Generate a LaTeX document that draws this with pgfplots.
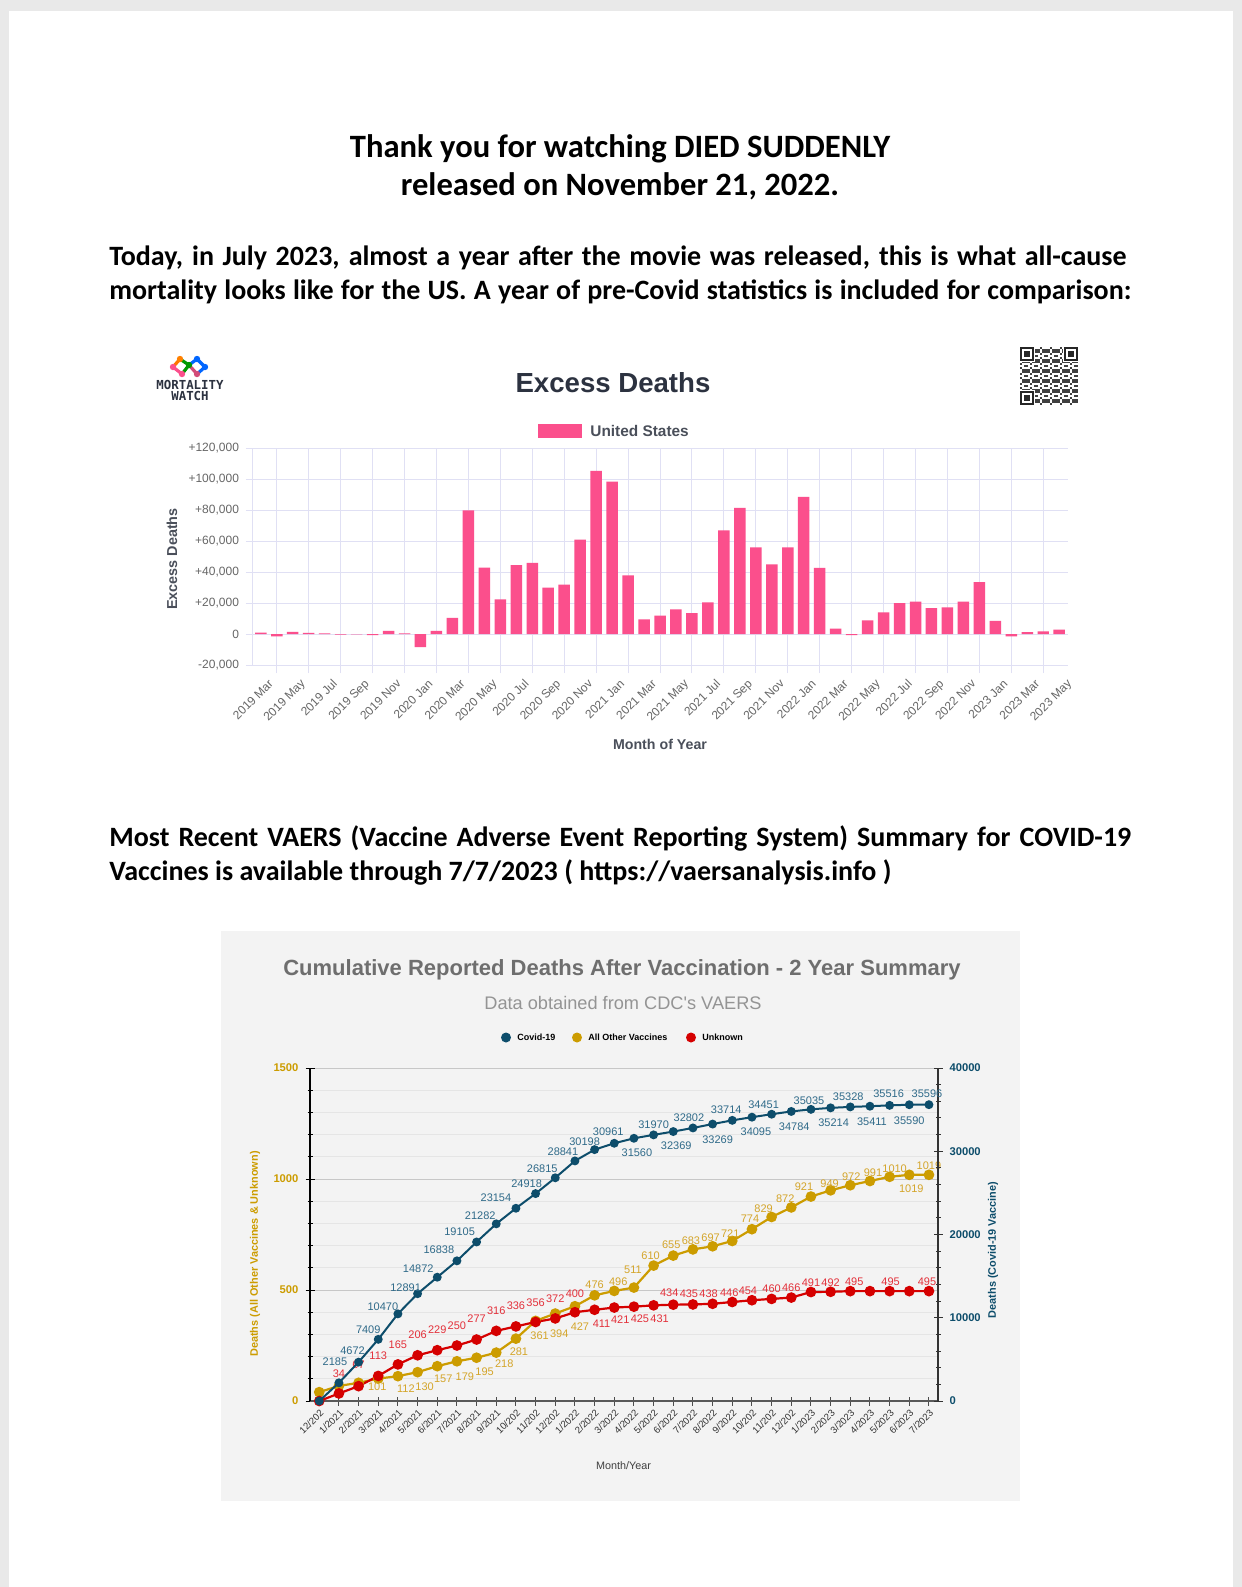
\documentclass[border=0pt]{standalone}
\usepackage{fontspec}
\usepackage{pgfplots}
\usepackage{pgfplotstable}
\pgfplotsset{compat=1.18}
\setmainfont{Carlito}
\newfontfamily\arial{Liberation Sans}
\newfontfamily\monof{DejaVu Sans Mono}
\newcommand\fs[1]{\fontsize{#1}{#1}\selectfont}

\definecolor{pagegray}{HTML}{E9E9E9}
\definecolor{barpink}{HTML}{FB4F8C}
\definecolor{gridlav}{HTML}{E0E0F4}
\definecolor{ticktxt}{HTML}{666666}
\definecolor{titlenavy}{HTML}{2C3240}
\definecolor{axlab}{HTML}{4A4F5A}
\definecolor{panelgray}{HTML}{F3F3F3}
\definecolor{covid}{HTML}{0D4D6B}
\definecolor{covidtxt}{HTML}{2F6A89}
\definecolor{othvac}{HTML}{CC9C00}
\definecolor{othtxt}{HTML}{D4A52A}
\definecolor{unk}{HTML}{D50000}
\definecolor{unktxt}{HTML}{E3303A}

\pgfplotstableread{
x y
0 1000
1 -1500
2 1500
3 800
4 400
5 -300
6 -200
7 -600
8 2000
9 400
10 -8500
11 2000
12 10500
13 80000
14 43000
15 22500
16 44500
17 46000
18 30000
19 32000
20 61000
21 105500
22 98500
23 38000
24 9500
25 12000
26 16000
27 13500
28 20500
29 67000
30 81500
31 56000
32 45000
33 56000
34 88700
35 42800
36 3500
37 -700
38 8800
39 14000
40 20000
41 21000
42 16800
43 17300
44 21000
45 33500
46 8500
47 -1500
48 1300
49 1700
50 2800
}\excess

\pgfplotstableread{
x y
0 0
1 2185
2 4672
3 7409
4 10470
5 12891
6 14872
7 16838
8 19105
9 21282
10 23154
11 24918
12 26815
13 28841
14 30198
15 30961
16 31560
17 31970
18 32369
19 32802
20 33269
21 33714
22 34095
23 34451
24 34784
25 35035
26 35214
27 35328
28 35411
29 35516
30 35590
31 35596
}\covid

% label tables: value, and offset (dx, dy, in pixels) of the label from its point
\pgfplotstableread{
x y dx dy lab
1 2185 -4 -21 2185
2 4672 -6 -11 4672
3 7409 -10 -10 7409
4 10470 -15 -7 10470
5 12891 -12 -6 12891
6 14872 -19 -8 14872
7 16838 -18 -11 16838
8 19105 -17 -10 19105
9 21282 -16 -8 21282
10 23154 -20 -11 23154
11 24918 -9 -10 24918
12 26815 -13 -9 26815
13 28841 -12 -9 28841
14 30198 -10 -8 30198
15 30961 -6 -12 30961
16 31560 3 14 31560
17 31970 0 -10 31970
18 32369 3 14 32369
19 32802 -4 -10 32802
20 33269 5 16 33269
21 33714 -6 -11 33714
22 34095 4 15 34095
23 34451 -8 -10 34451
24 34784 3 15 34784
25 35035 -2 -9 35035
26 35214 3 15 35214
27 35328 -2 -10 35328
28 35411 2 15 35411
29 35516 -1 -12 35516
30 35590 0 16 35590
31 35596 -2 -11 35596
}\covidlab

\pgfplotstableread{
x y
0 40
1 68
2 82
3 101
4 112
5 130
6 157
7 179
8 195
9 218
10 281
11 361
12 394
13 427
14 476
15 496
16 511
17 610
18 655
19 683
20 697
21 721
22 774
23 829
24 872
25 921
26 949
27 972
28 991
29 1010
30 1019
31 1019
}\other

\pgfplotstableread{
x y dx dy lab
3 101 -1 8 101
4 112 8 13 112
5 130 7 15 130
6 157 6 13 157
7 179 8 15 179
8 195 8 14 195
9 218 8 11 218
10 281 3 13 281
11 361 4 15 361
12 394 4 20 394
13 427 5 20 427
14 476 0 -11 476
15 496 4 -9 496
16 511 -1 -18 511
17 610 -3 -10 610
18 655 -2 -11 655
19 683 -2 -9 683
20 697 -2 -9 697
21 721 -2 -7 721
22 774 -2 -10 774
23 829 -8 -8 829
24 872 -6 -9 872
25 921 -7 -10 921
26 949 -1 -7 949
27 972 1 -9 972
28 991 3 -8 991
29 1010 5 -8 1010
30 1019 2 14 1019
31 1019 0 -9 1019
}\otherlab

\pgfplotstableread{
x y
0 0
1 34
2 67
3 113
4 165
5 206
6 229
7 250
8 277
9 316
10 336
11 356
12 372
13 400
14 411
15 421
16 425
17 431
18 434
19 435
20 438
21 446
22 454
23 460
24 466
25 491
26 492
27 495
28 495
29 495
30 495
31 495
}\unknown

\pgfplotstableread{
x y dx dy lab
1 34 0 -20 34
2 67 0 -21 67
3 113 0 -20 113
4 165 0 -20 165
5 206 0 -21 206
6 229 0 -20 229
7 250 0 -20 250
8 277 0 -21 277
9 316 0 -20 316
10 336 0 -21 336
11 356 0 -19 356
12 372 0 -20 372
13 400 0 -19 400
14 411 7 14 411
15 421 6 12 421
16 425 6 12 425
17 431 6 13 431
18 434 -4 -12 434
19 435 -4 -11 435
20 438 -4 -10 438
21 446 -3 -9 446
22 454 -4 -9 454
23 460 0 -10 460
24 466 0 -10 466
25 491 0 -9 491
26 492 0 -9 492
27 495 4 -9 495
29 495 1 -9 495
31 495 -2 -9 495
}\unknownlab

\pgfplotsset{
  lab/.style={only marks, mark=*, mark size=0pt, mark options={draw=none,fill=none},
    point meta=explicit symbolic, nodes near coords, nodes near coords align=center,
    every node near coord/.append style={anchor=center, inner sep=0pt,
      font=\arial\fs{5.5}, text=#1}},
}

\begin{document}
\begin{tikzpicture}
\path[use as bounding box] (0,0) rectangle (621pt,-793.5pt);
\fill[pagegray] (0,0) rectangle (621pt,-793.5pt);
\begin{scope}[x=0.5pt,y=-0.5pt]
\fill[white] (9,11) rectangle (1233,1587);
\fill[panelgray] (221,931) rectangle (1020,1501);
% page text
\node[anchor=base, font=\bfseries\fs{16.3}, inner sep=0pt] at (620,157) {Thank you for watching DIED SUDDENLY};
\node[anchor=base, font=\bfseries\fs{16.3}, inner sep=0pt] at (620,195) {released on November 21, 2022.};
\node[anchor=base west, font=\bfseries\fs{14}, inner sep=0pt] at (109,265) {\makebox[508.5pt][s]{Today, in July 2023, almost a year after the movie was released, this is what all-cause}};
\node[anchor=base west, font=\bfseries\fs{14}, inner sep=0pt] at (109,299.5) {\makebox[511pt][s]{mortality looks like for the US. A year of pre-Covid statistics is included for comparison:}};
\node[anchor=base west, font=\bfseries\fs{14}, inner sep=0pt] at (109,846) {\makebox[511pt][s]{Most Recent VAERS (Vaccine Adverse Event Reporting System) Summary for COVID-19}};
\node[anchor=base west, font=\bfseries\fs{14}, inner sep=0pt] at (109,880.5) {Vaccines is available through 7/7/2023 ( https://vaersanalysis.info )};
% logo
\draw[line width=1.6pt, draw=barpink] (173,367) -- (182,374);
\draw[line width=1.6pt, draw=orange!90!red] (173,367) -- (180,359);
\draw[line width=1.6pt, draw=green!60!black] (180,359) -- (189,365) -- (182,374);
\draw[line width=1.6pt, draw=blue!60!cyan] (189,365) -- (197,359) -- (205,367) -- (197,374);
\draw[line width=1.6pt, draw=purple!70] (197,374) -- (189,365);
\foreach \px/\py/\c in {173/367/barpink,180/359/orange,189/365/green!60!black,182/374/barpink,197/359/blue!60!cyan,205/367/blue!60!cyan,197/374/purple!70}
  \fill[\c] (\px,\py) circle (3.2);
\node[font=\monof\bfseries\fs{6.2}, text=titlenavy, inner sep=0pt] at (190,385) {MORTALITY};
\node[font=\monof\bfseries\fs{6.2}, text=titlenavy, inner sep=0pt] at (190,396) {WATCH};
% qr code
\fill[white] (1018,345) rectangle (1080,407);
\foreach \i in {0,...,28}{
  \foreach \j in {0,...,28}{
    \pgfmathtruncatemacro\r{mod(\i*\i*3+\j*7+\i*\j*5+\j*\j,5)}
    \ifnum\r<2 \fill[black!75] (1020+2*\i,347+2*\j) rectangle ++(2,2);\fi
  }
}
\foreach \ox/\oy in {1020/347,1064/347,1020/391}{
  \fill[white] (\ox-1,\oy-1) rectangle ++(16,16);
  \fill[black!85] (\ox,\oy) rectangle ++(14,14);
  \fill[white] (\ox+2,\oy+2) rectangle ++(10,10);
  \fill[black!85] (\ox+4,\oy+4) rectangle ++(6,6);
}
% bar chart texts
\node[font=\arial\bfseries\fs{13.8}, text=titlenavy] at (613,383) {Excess Deaths};
\fill[barpink] (537.5,424) rectangle (582,438);
\node[anchor=west, font=\arial\bfseries\fs{7.7}, text=axlab, inner sep=0pt] at (590,431) {United States};
\node[rotate=90, font=\arial\bfseries\fs{7.2}, text=axlab] at (172,559) {Excess Deaths};
\node[font=\arial\bfseries\fs{7.1}, text=axlab] at (660,744) {Month of Year};
% bottom chart texts
\node[font=\arial\bfseries\fs{11}, text=black!57] at (622,970) {Cumulative Reported Deaths After Vaccination - 2 Year Summary};
\node[font=\arial\fs{9.1}, text=black!42] at (623,1003) {Data obtained from CDC's VAERS};
\fill[covid] (506,1037.5) circle (5);
\node[anchor=west, font=\arial\bfseries\fs{4.5}, inner sep=0pt] at (517,1037.5) {Covid-19};
\fill[othvac] (577,1037.5) circle (5);
\node[anchor=west, font=\arial\bfseries\fs{4.5}, inner sep=0pt] at (588,1037.5) {All Other Vaccines};
\fill[unk] (691,1037.5) circle (5);
\node[anchor=west, font=\arial\bfseries\fs{4.5}, inner sep=0pt] at (702,1037.5) {Unknown};
\node[rotate=90, font=\arial\bfseries\fs{5.45}, text=othvac] at (255,1254) {Deaths (All Other Vaccines \& Unknown)};
\node[rotate=90, font=\arial\bfseries\fs{5.45}, text=covid] at (993,1250) {Deaths (Covid-19 Vaccine)};
\node[font=\arial\fs{5.4}, text=black!75] at (623.5,1466) {Month/Year};
\end{scope}

% ---------- Excess deaths bar chart ----------
\begin{axis}[
  at={(126pt,-332.5pt)}, anchor=south west,
  scale only axis, width=408pt, height=108.3pt,
  xmin=-0.55, xmax=50.55, ymin=-20000, ymax=120000,
  scaled y ticks=false,
  axis x line*=bottom, axis y line*=left,
  axis line style={draw=gridlav, line width=0.5pt, -},
  ytick={-20000,0,20000,40000,60000,80000,100000,120000},
  yticklabels={{-20,000},{0},{+20,000},{+40,000},{+60,000},{+80,000},{+100,000},{+120,000}},
  ymajorgrids, major grid style={draw=gridlav, line width=0.5pt},
  xtick={0,2,...,50},
  xticklabels={2019 Mar,2019 May,2019 Jul,2019 Sep,2019 Nov,2020 Jan,2020 Mar,2020 May,2020 Jul,2020 Sep,2020 Nov,2021 Jan,2021 Mar,2021 May,2021 Jul,2021 Sep,2021 Nov,2022 Jan,2022 Mar,2022 May,2022 Jul,2022 Sep,2022 Nov,2023 Jan,2023 Mar,2023 May},
  minor xtick={1,3,...,49}, xminorgrids, minor grid style={draw=gridlav, line width=0.5pt},
  tick align=outside, major tick length=3pt, minor tick length=4pt,
  major x tick style={draw=none}, minor x tick style={draw=gridlav, line width=0.5pt},
  ytick style={draw=gridlav, line width=0.5pt},
  yticklabel style={font=\arial\fs{6}, text=ticktxt},
  xticklabel style={rotate=45, anchor=north east, font=\arial\fs{6}, text=ticktxt, inner sep=1pt, yshift=-4pt, xshift=1pt},
]
\addplot[ybar, bar width=0.72, fill=barpink, draw=none] table[x=x,y=y]{\excess};
\end{axis}

% ---------- VAERS chart, left axis (1 px = 1/19.67 x-unit, 4.5045 y-units) ----------
\begin{axis}[
  at={(155pt,-700.5pt)}, anchor=south west,
  scale only axis, width=314pt, height=166.5pt,
  xmin=-0.47, xmax=31.46, ymin=0, ymax=1500,
  clip=false, scaled y ticks=false,
  axis x line*=bottom, axis y line*=left,
  x axis line style={-, draw=black!65, line width=0.6pt},
  y axis line style={-, draw=black, line width=0.6pt},
  xtick={0,...,31},
  xticklabels={12/202,1/2021,2/2021,3/2021,4/2021,5/2021,6/2021,7/2021,8/2021,9/2021,10/202,11/202,12/202,1/2022,2/2022,3/2022,4/2022,5/2022,6/2022,7/2022,8/2022,9/2022,10/202,11/202,12/202,1/2023,2/2023,3/2023,4/2023,5/2023,6/2023,7/2023},
  xticklabel style={rotate=45, anchor=north east, font=\arial\fs{4.8}, text=black!80, inner sep=1pt},
  ytick={0,500,1000,1500}, yticklabels={0,500,1000,1500},
  minor ytick={100,200,300,400,600,700,800,900,1100,1200,1300,1400},
  ymajorgrids, yminorgrids,
  major grid style={draw=black!22, line width=0.5pt},
  minor grid style={draw=black!10, line width=0.5pt},
  tick align=center, major tick length=4.5pt, minor tick length=2.5pt,
  xtick style={draw=black!70, line width=0.5pt},
  ytick style={draw=black, line width=0.5pt},
  yticklabel style={font=\arial\bfseries\fs{5.6}, text=othvac},
]
\addplot[othvac, line width=1.1pt, mark=*, mark size=2.1pt, mark options={fill=othvac, draw=othvac}] table[x=x,y=y]{\other};
\addplot[unk, line width=1.1pt, mark=*, mark size=2.1pt, mark options={fill=unk, draw=unk}] table[x=x,y=y]{\unknown};
\addplot[lab=othtxt] table[x expr=\thisrow{x}+\thisrow{dx}/19.67, y expr=\thisrow{y}-\thisrow{dy}*4.5045, meta=lab]{\otherlab};
\addplot[lab=unktxt] table[x expr=\thisrow{x}+\thisrow{dx}/19.67, y expr=\thisrow{y}-\thisrow{dy}*4.5045, meta=lab]{\unknownlab};
\end{axis}

% ---------- VAERS chart, right axis (1 px = 120.12 y-units) ----------
\begin{axis}[
  at={(155pt,-700.5pt)}, anchor=south west,
  scale only axis, width=314pt, height=166.5pt,
  xmin=-0.47, xmax=31.46, ymin=0, ymax=40000,
  clip=false, scaled y ticks=false,
  axis x line=none, axis y line*=right,
  y axis line style={-, draw=black!80, line width=0.6pt},
  ytick={0,10000,20000,30000,40000}, yticklabels={0,10000,20000,30000,40000},
  minor ytick={2000,4000,6000,8000,12000,14000,16000,18000,22000,24000,26000,28000,32000,34000,36000,38000},
  tick align=center, major tick length=4.5pt, minor tick length=2.5pt,
  ytick style={draw=black!80, line width=0.5pt},
  yticklabel style={font=\arial\bfseries\fs{5.6}, text=covid},
]
\addplot[covid, line width=1pt, mark=*, mark size=1.7pt, mark options={fill=covid, draw=covid}] table[x=x,y=y]{\covid};
\addplot[lab=covidtxt] table[x expr=\thisrow{x}+\thisrow{dx}/19.67, y expr=\thisrow{y}-\thisrow{dy}*120.12, meta=lab]{\covidlab};
\end{axis}
\end{tikzpicture}
\end{document}
